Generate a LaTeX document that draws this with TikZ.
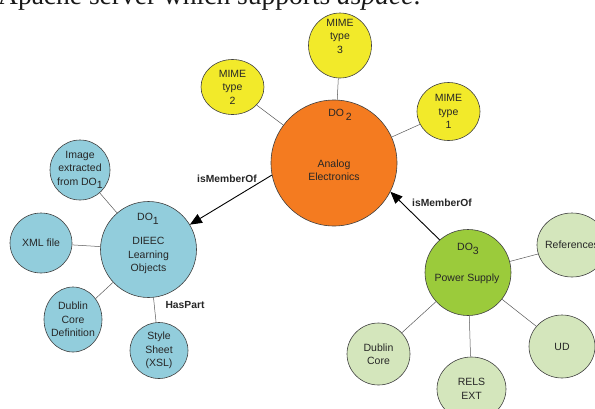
\documentclass[tikz,border=0pt]{standalone}
\usepackage{fontspec}
\setmainfont{Liberation Sans}
\newfontfamily\captionserif{Liberation Serif}
\usetikzlibrary{shapes.geometric,arrows.meta}

\definecolor{dcblue}{HTML}{92CDDC}
\definecolor{dcorange}{HTML}{F47B20}
\definecolor{dcyellow}{HTML}{F2EA2A}
\definecolor{dcgreen}{HTML}{9BCB3B}
\definecolor{dclight}{HTML}{D4E6BC}
\newcommand\dosub[1]{\raisebox{-3.5pt}{#1}}

\begin{document}
\begin{tikzpicture}
[
    x=1pt, y=-1pt,
    every node/.style={font=\fontsize{10.5}{13.5}\selectfont, text=black!85},
    obj/.style={circle, draw=black!75, line width=0.6pt, inner sep=0pt},
    part/.style={ellipse, draw=black!75, line width=0.6pt, inner sep=-4pt, align=center, minimum width=62pt, minimum height=60pt},
    link/.style={draw=black!65, line width=0.5pt},
    member/.style={-{Triangle[length=12pt,width=10pt]}, line width=0.9pt},
    relname/.style={font=\fontsize{10.3}{12}\selectfont\bfseries},
]
\useasboundingbox (0,0) rectangle (595,408);
\clip (0,0) rectangle (595,408);

\node[anchor=base east, font=\captionserif\fontsize{27.5}{30}\selectfont, text=black!90] (caption) at (424,4) {Apache server which supports \textit{dspace}.};

\node[obj, fill=dcorange, minimum size=126pt] (do2) at (334,163) {};
\node[obj, fill=dcblue, minimum size=96pt] (do1) at (148.5,249.5) {};
\node[obj, fill=dcgreen, minimum size=86pt] (do3) at (468,272.5) {};

\node (do2id) at (340,115) {DO\,\dosub{2}};
\node[align=center] (do2name) at (334,170) {Analog\\Electronics};
\node (do1id) at (148,219) {DO\dosub{1}};
\node[align=center] (do1name) at (148.5,255.5) {DIEEC\\Learning\\Objects};
\node (do3id) at (468,249) {DO\dosub{3}};
\node (do3name) at (467,279) {Power Supply};

\node[part, fill=dcyellow, minimum width=63pt, minimum height=65pt] (mime3) at (340,45.5) {MIME\\type\\3\\[5pt]\mbox{}};
\node[part, fill=dcyellow, minimum width=63pt, minimum height=55pt] (mime2) at (232.5,87) {MIME\\type\\2};
\node[part, fill=dcyellow, minimum width=63pt, minimum height=58pt] (mime1) at (448.5,111.5) {MIME\\type\\1};

\node[part, fill=dcblue, minimum width=60pt, minimum height=60pt] (img) at (80,170) {Image\\extracted\\from DO\dosub{1}};
\node[part, fill=dcblue, minimum width=62pt, minimum height=60pt] (xml) at (41,243) {XML file};
\node[part, fill=dcblue, minimum width=58pt, minimum height=65pt] (dcdef) at (73,319.5) {Dublin\\Core\\Definition};
\node[part, fill=dcblue, minimum width=58pt, minimum height=56pt] (xsl) at (159,350.5) {Style\\Sheet\\(XSL)};

\node[part, fill=dclight, minimum width=70pt, minimum height=64pt] (refs) at (572,245) {References};
\node[part, fill=dclight, minimum width=66pt, minimum height=63pt] (ud) at (562,346.5) {UD};
\node[part, fill=dclight, minimum width=69pt, minimum height=64pt] (rels) at (471.5,389) {RELS\\EXT};
\node[part, fill=dclight, minimum width=63pt, minimum height=62pt] (dc) at (378.5,354) {Dublin\\Core};

\draw[link] (mime3) -- (do2);
\draw[link] (mime2) -- (do2);
\draw[link] (mime1) -- (do2);
\draw[link] (img) -- (do1);
\draw[link] (xml) -- (do1);
\draw[link] (dcdef) -- (do1);
\draw[link] (do1) -- (xsl);
\draw[link] (do3) -- (refs);
\draw[link] (do3) -- (ud);
\draw[link] (do3) -- (rels);
\draw[link] (do3) -- (dc);
\node[relname, anchor=west] (haspart) at (162,305) {HasPart};

\draw[member] (do2.191) -- (do1.31);
\node[relname] (member1) at (227,179) {isMemberOf};
\draw[member] (do3.131) -- (do2.-27);
\node[relname] (member2) at (442,203) {isMemberOf};
\end{tikzpicture}
\end{document}
